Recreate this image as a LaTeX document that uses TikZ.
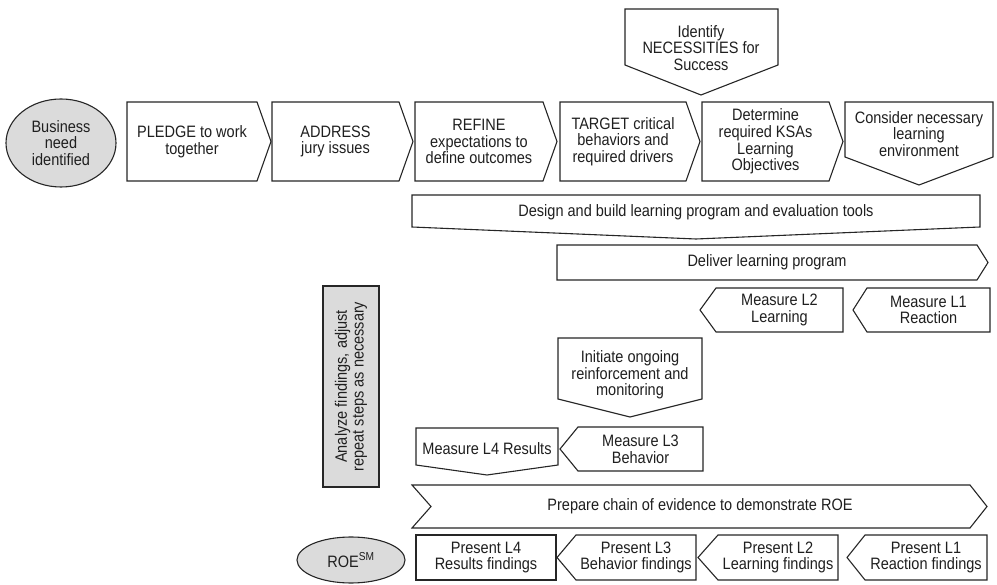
\documentclass[tikz,border=0pt]{standalone}
\usepackage{fontspec}
\setmainfont{Liberation Sans}[FakeStretch=0.88]
\usetikzlibrary{shapes.geometric}
\begin{document}
\begin{tikzpicture}[x=1pt,y=-1pt,
  shp/.style={draw=black!85, line width=1.1pt, fill=white, line join=miter},
  grayshp/.style={shp, fill=black!14},
  lbl/.style={align=center, inner sep=0pt, text=black!88,
    font=\fontsize{16.5}{16.7}\selectfont},
]
\useasboundingbox (0,0) rectangle (997,585);

% ---------- top: necessities ----------
\draw[shp] (625,9) -- (778,9) -- (778,65) -- (701,95) -- (625,65) -- cycle;
\node[lbl] (necess) at (701,48) {Identify\\NECESSITIES for\\Success};

% ---------- first row ----------
\node[grayshp, ellipse, minimum width=110pt, minimum height=88pt, inner sep=0pt,
      lbl] (biz) at (61,143) {Business\\need\\identified};

\draw[shp] (127,102) -- (257,102) -- (271,141.5) -- (257,181) -- (127,181) -- cycle;
\node[lbl] (pledge) at (192,141.5) {PLEDGE to work\\together};

\draw[shp] (272,102) -- (399,102) -- (413,141.5) -- (399,181) -- (272,181) -- cycle;
\node[lbl] (address) at (335.5,141.5) {ADDRESS\\jury issues};

\draw[shp] (415,102) -- (543,102) -- (557,141.5) -- (543,181) -- (415,181) -- cycle;
\node[lbl] (refine) at (479,141.5) {REFINE\\expectations to\\define outcomes};

\draw[shp] (560,102) -- (686,102) -- (700,141.5) -- (686,181) -- (560,181) -- cycle;
\node[lbl] (target) at (623,141.5) {TARGET critical\\behaviors and\\required drivers};

\draw[shp] (702,102) -- (829,102) -- (843,141.5) -- (829,181) -- (702,181) -- cycle;
\node[lbl] (determine) at (765.5,141.5) {Determine\\required KSAs\\Learning\\Objectives};

\draw[shp] (845,102) -- (993,102) -- (993,157) -- (919,185) -- (845,157) -- cycle;
\node[lbl] (consider) at (919,134) {Consider necessary\\learning\\environment};

% ---------- design and delivery ----------
\draw[shp] (412,195) -- (980,195) -- (980,227) -- (696,239) -- (412,227) -- cycle;
\node[lbl] (design) at (696,212) {Design and build learning program and evaluation tools};

\draw[shp] (557,245) -- (977,245) -- (988,262.5) -- (977,280) -- (557,280) -- cycle;
\node[lbl] (deliver) at (767,262.5) {Deliver learning program};

\draw[shp] (700,310) -- (716,288) -- (843,288) -- (843,332) -- (716,332) -- cycle;
\node[lbl] (mltwo) at (779.5,310) {Measure L2\\Learning};

\draw[shp] (853,310) -- (867,288) -- (990,288) -- (990,332) -- (867,332) -- cycle;
\node[lbl] (mlone) at (928.5,310) {Measure L1\\Reaction};

% ---------- reinforcement ----------
\draw[shp] (558,338) -- (702,338) -- (702,399) -- (630,417) -- (558,399) -- cycle;
\node[lbl] (initiate) at (630,375) {Initiate ongoing\\reinforcement and\\monitoring};

\draw[shp] (416,428) -- (558,428) -- (558,465) -- (487,475) -- (416,465) -- cycle;
\node[lbl] (mlfour) at (487,449) {Measure L4 Results};

\draw[shp] (560,449) -- (578,427) -- (703,427) -- (703,471) -- (578,471) -- cycle;
\node[lbl] (mlthree) at (640.5,449) {Measure L3\\Behavior};

\node[grayshp, rotate=90, minimum width=201pt, minimum height=56pt, inner sep=0pt,
      lbl] (analyze) at (351,386.5) {Analyze findings, adjust\\repeat steps as necessary};

% ---------- evidence ----------
\draw[shp] (412,485) -- (970,485) -- (987,506.5) -- (970,528) -- (412,528)
  -- (431,506.5) -- cycle;
\node[lbl] (prepare) at (700,506.5) {Prepare chain of evidence to demonstrate ROE};

\node[grayshp, ellipse, minimum width=108pt, minimum height=46pt, inner sep=0pt,
      lbl] (roe) at (351,560) {ROE\textsuperscript{SM}};

\node[shp, minimum width=140pt, minimum height=45pt, inner sep=0pt, lbl]
  (pfour) at (486,557.5) {Present L4\\Results findings};

\draw[shp] (557,557.5) -- (576,535) -- (696,535) -- (696,580) -- (576,580) -- cycle;
\node[lbl] (pthree) at (636,557.5) {Present L3\\Behavior findings};

\draw[shp] (698,557.5) -- (718,535) -- (838,535) -- (838,580) -- (718,580) -- cycle;
\node[lbl] (ptwo) at (778,557.5) {Present L2\\Learning findings};

\draw[shp] (847,557.5) -- (865,535) -- (987,535) -- (987,580) -- (865,580) -- cycle;
\node[lbl] (pone) at (926,557.5) {Present L1\\Reaction findings};

\end{tikzpicture}
\end{document}
